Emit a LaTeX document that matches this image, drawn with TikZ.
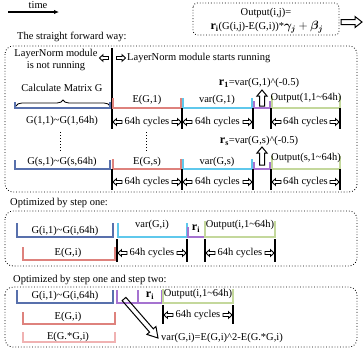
\documentclass[tikz,border=0pt]{standalone}
\usepackage{fontspec}
\setmainfont{Liberation Serif}
\usepackage{amsmath,bm}
\usetikzlibrary{decorations.pathreplacing,arrows.meta}
\definecolor{cblue}{RGB}{88,112,172}
\definecolor{cred}{RGB}{222,130,125}
\definecolor{cpink}{RGB}{240,178,178}
\definecolor{ccyan}{RGB}{95,200,236}
\definecolor{cpurple}{RGB}{165,115,208}
\definecolor{cgreen}{RGB}{196,216,156}
\tikzset{
  pics/larr/.style={code={\draw[line width=0.9pt] (-4.5,0) -- (-1,-3.3) -- (-1,-1.5) -- (4.5,-1.5) -- (4.5,1.5) -- (-1,1.5) -- (-1,3.3) -- cycle;}},
  pics/rarr/.style={code={\draw[line width=0.9pt] (4.5,0) -- (1,-3.3) -- (1,-1.5) -- (-4.5,-1.5) -- (-4.5,1.5) -- (1,1.5) -- (1,3.3) -- cycle;}},
  panel/.style={dotted, line width=0.8pt, rounded corners=8pt},
  vline/.style={line width=1.1pt},
  brk/.style={line width=1.1pt},
  hollow/.style={line width=1pt, line join=miter}
}
\newcommand\cycles[3]{\node at ({(#1+#2)/2},#3) {64h cycles}; \pic at ({#1+5.5},#3) {larr}; \pic at ({#2-5.5},#3) {rarr};}
\newcommand\bracket[5]{\draw[brk,#1] (#2,#4) -- (#2,#5) -- (#3,#5) -- (#3,#4);}
\newcommand\uparr[3]{\draw[hollow] (#1,#2) -- ({#1+5},{#2+6}) -- ({#1+2.5},{#2+6}) -- ({#1+2.5},#3) -- ({#1-2.5},#3) -- ({#1-2.5},{#2+6}) -- ({#1-5},{#2+6}) -- cycle;}
\begin{document}
\begin{tikzpicture}[x=1pt,y=-1pt, every node/.style={font=\fontsize{10.5}{12}\selectfont, inner sep=0pt}]
\useasboundingbox (0,0) rectangle (364,349);

% time arrow
\node (time) at (38,5) {time};
\coordinate (ts) at (8,12); \coordinate (te) at (59,12);
\draw[line width=1.6pt,-{Latex[length=5pt,width=4.5pt]}] (ts) -- (te);

% formula box
\draw[panel, rounded corners=4pt] (193,3) rectangle (339,35);
\node (f1) at (266,13) {Output(i,j)=};
\node (f2) at (267,27) {{\large$\mathbf{r_i}$}(G(i,j)-E(G,i))*{\large$\boldsymbol{\gamma_j}+\boldsymbol{\beta_j}$}};
\draw[hollow] (341,19.5) -- (355,19.5) -- (355,16.5) -- (362,22) -- (355,27.5) -- (355,24.5) -- (341,24.5) -- cycle;

% ---------- panel 1 ----------
\node[anchor=west] (t1) at (17,37) {The straight forward way:};
\draw[panel] (5,46) rectangle (357,192);
\node (ln1) at (56,54) {LayerNorm module};
\node (ln2) at (56,66) {is not running};
\pic at (104,58) {larr};
\pic at (121,58) {rarr};
\node[anchor=west] (ln3) at (127,58) {LayerNorm module starts running};
\draw[vline] (112,48) -- (112,129);

\node (calc) at (62,88) {Calculate Matrix G};
\draw[decorate, decoration={brace, amplitude=6pt}, line width=0.8pt] (16,106) -- (110,106);

% row 1
\bracket{cblue}{15}{110}{102}{108}
\bracket{cred}{113}{181}{98}{108}
\bracket{ccyan}{183}{252}{98}{108}
\bracket{cpurple}{254}{270}{101}{108}
\bracket{cgreen}{272}{340}{96}{108}
\node (e1) at (147,100) {E(G,1)};
\node (v1) at (217,100) {var(G,1)};
\node (o1) at (306,98) {Output(1,1\textasciitilde 64h)};
\node (r1) at (259,83) {{\large$\mathbf{r_1}$}=var(G,1)\textasciicircum(-0.5)};
\uparr{262}{90}{106}
\foreach \x in {182,253,271,340} \draw[vline] (\x,108) -- (\x,129);
\node (g1) at (62,121) {G(1,1)\textasciitilde G(1,64h)};
\cycles{112}{182}{122}
\cycles{182}{253}{122}
\cycles{271}{340}{122}

% dots
\draw[dotted, line width=1pt] (60,132) -- (60,152);
\draw[dotted, line width=1pt] (146,132) -- (146,152);

% row s
\node (rs) at (259,141) {{\large$\mathbf{r_s}$}=var(G,s)\textasciicircum(-0.5)};
\uparr{262}{147}{165}
\bracket{cblue}{15}{110}{160}{169}
\bracket{cred}{113}{181}{159}{169}
\bracket{ccyan}{183}{252}{159}{169}
\bracket{cpurple}{254}{270}{162}{169}
\bracket{cgreen}{272}{340}{156}{169}
\node (gs) at (62,162) {G(s,1)\textasciitilde G(s,64h)};
\node (es) at (147,162) {E(G,s)};
\node (vs) at (217,162) {var(G,s)};
\node (os) at (306,158) {Output(s,1\textasciitilde 64h)};
\foreach \x in {112,182,253,271,340} \draw[vline] (\x,169) -- (\x,190);
\cycles{112}{182}{182}
\cycles{182}{253}{182}
\cycles{271}{340}{182}

% ---------- panel 2 ----------
\node[anchor=west] (t2) at (10,203) {Optimized by step one:};
\draw[panel] (5,211) rectangle (357,266);
\bracket{cblue}{17}{113}{223}{237}
\bracket{ccyan}{118}{187}{223}{237}
\bracket{cpurple}{188}{205}{227}{237}
\bracket{cgreen}{205}{275}{221}{237}
\bracket{cred}{23}{115}{247}{260}
\node (g2) at (65,231) {G(i,1)\textasciitilde G(i,64h)};
\node (v2) at (152,225) {var(G,i)};
\node (ri2) at (196,229) {\large$\mathbf{r_i}$};
\node (o2) at (240,225) {Output(i,1\textasciitilde 64h)};
\node (e2) at (68,253) {E(G,i)};
\foreach \x in {117,187,205,275} \draw[vline] (\x,239) -- (\x,262);
\cycles{117}{187}{253}
\cycles{205}{275}{253}

% ---------- panel 3 ----------
\node[anchor=west] (t3) at (13,280) {Optimized by step one and step two:};
\draw[panel] (5,287) rectangle (357,347);
\bracket{cblue}{17}{113}{290}{303}
\bracket{cpurple}{117}{138}{290}{303}
\bracket{cpurple}{138}{162}{290}{303}
\bracket{cgreen}{163}{233}{289}{303}
\bracket{cred}{23}{115}{312}{324}
\bracket{cpink}{23}{115}{332}{342}
\node (g3) at (65,296) {G(i,1)\textasciitilde G(i,64h)};
\node (ri3) at (150,296) {\large$\mathbf{r_i}$};
\node (o3) at (198,294) {Output(i,1\textasciitilde 64h)};
\node (e3) at (68,317) {E(G,i)};
\node (ee3) at (68,337) {E(G.*G,i)};
\foreach \x in {163,233} \draw[vline] (\x,305) -- (\x,324);
\cycles{163}{233}{315}
\draw[hollow] (122.12,300.64) -- (149.55,332.10) -- (146.91,334.40) -- (158,338) -- (155.95,326.52) -- (153.32,328.82) -- (125.89,297.36) -- cycle;
\node[anchor=west] (var3) at (161,338) {var(G,i)=E(G,i)\textasciicircum 2-E(G.*G,i)};
\end{tikzpicture}
\end{document}
